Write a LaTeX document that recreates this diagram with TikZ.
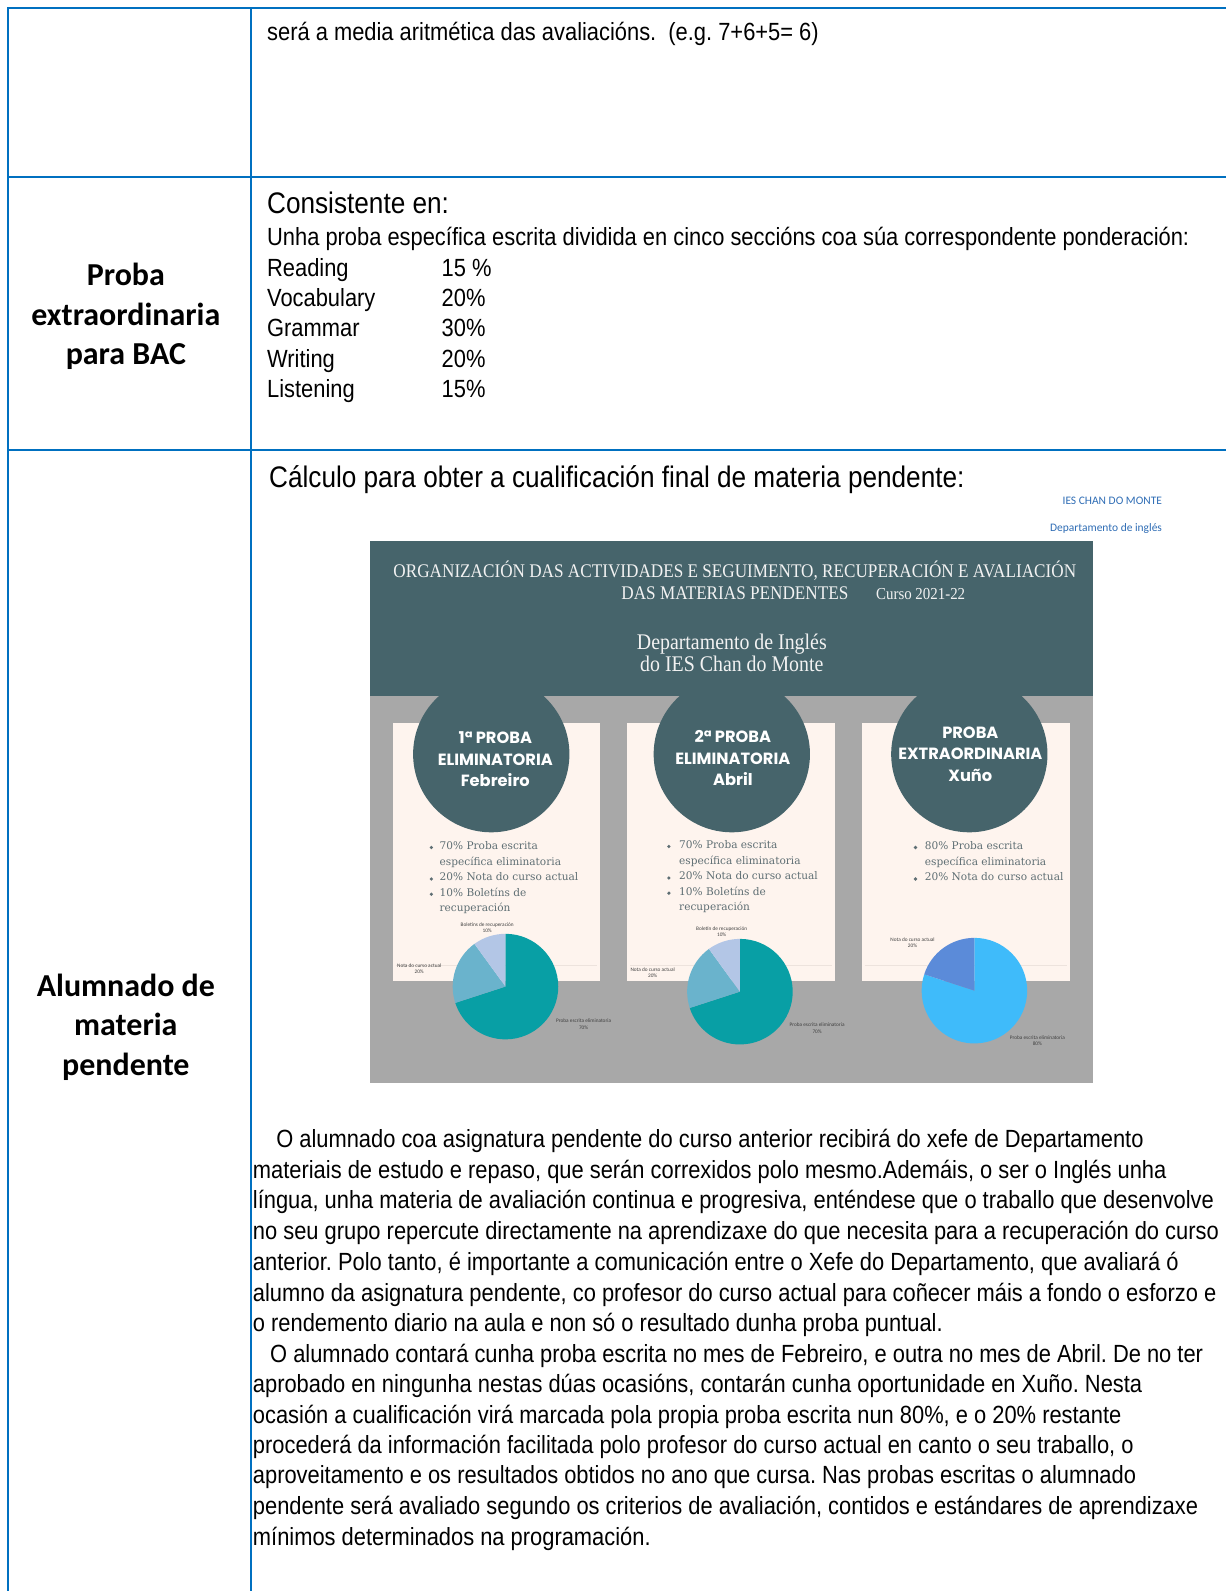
\documentclass[tikz,border=0pt]{standalone}
\usepackage{fontspec}
\setmainfont{Liberation Sans}
\newfontfamily\nar[FakeStretch=0.88]{Liberation Sans}
\newfontfamily\carl{Carlito}
\newfontfamily\tser[FakeStretch=0.89]{Liberation Serif}
\newfontfamily\popf{Poppins}
\newfontfamily\bser{DejaVu Serif}
\frenchspacing
\definecolor{tblue}{HTML}{0070C0}
\definecolor{slate}{HTML}{46646B}
\definecolor{greyb}{HTML}{A8A8A8}
\definecolor{cream}{HTML}{FEF4EE}
\definecolor{creamline}{HTML}{EDE3DD}
\definecolor{pteal}{HTML}{089FA5}
\definecolor{plteal}{HTML}{6AB3CC}
\definecolor{plav}{HTML}{B3C6E6}
\definecolor{psky}{HTML}{3FBBFA}
\definecolor{pmid}{HTML}{5B8BD9}
\definecolor{bulc}{HTML}{5E6E73}
\definecolor{iesb}{HTML}{2F6DB5}
\definecolor{titw}{HTML}{F2F2F2}
\begin{document}
\begin{tikzpicture}[x=1pt,y=-1pt,
  tline/.style={draw=tblue, line width=2pt},
  body/.style={anchor=base west, inner sep=0pt, font=\nar\fontsize{24.5}{28}\selectfont\frenchspacing, text=black},
  headl/.style={anchor=base west, inner sep=0pt, font=\nar\fontsize{29.3}{32}\selectfont, text=black},
  lab/.style={align=center, inner sep=0pt, font=\carl\bfseries\fontsize{31.5}{39}\selectfont},
  ttl/.style={inner sep=0pt, anchor=base, font=\tser\fontsize{19}{20}\selectfont, text=titw},
  dept/.style={inner sep=0pt, align=center, font=\tser\fontsize{22}{22}\selectfont, text=titw},
  ctext/.style={inner sep=0pt, align=center, text=white, font=\popf\bfseries\fontsize{16}{21}\selectfont},
  btext/.style={inner sep=0pt, anchor=north west, align=left, text=bulc, font=\bser\fontsize{10.4}{15.3}\selectfont},
  plab/.style={inner sep=0pt, align=center, text=black!75, font=\carl\fontsize{5.2}{6}\selectfont},
  ies/.style={inner sep=0pt, anchor=east, text=iesb, font=\carl\fontsize{11.3}{13}\selectfont}]
\useasboundingbox (0,0) rectangle (1226,1591);
\fill[white] (0,0) rectangle (1226,1591);
\begin{scope}[scale=1.015, transform shape]
% table
\draw[tline] (1226,8) -- (8,8) -- (8,1591);
\draw[tline] (247,8) -- (247,1591);
\draw[tline] (8,174) -- (1226,174);
\draw[tline] (8,443) -- (1226,443);

% row 1
\node[body] (r1) at (263,40) {será a media aritmética das avaliacións.\ \ (e.g. 7+6+5= 6)};

% row 2
\node[lab] (l2) at (124,312) {Proba\\extraordinaria\\para BAC};
\node[headl] (h2) at (263,210) {Consistente en:};
\node[body] (u2) at (263,242) {Unha proba específica escrita dividida en cinco seccións coa súa correspondente ponderación:};
\node[body] (s1) at (263,272) {Reading};
\node[body] (s2) at (263,302) {Vocabulary};
\node[body] (s3) at (263,332) {Grammar};
\node[body] (s4) at (263,362) {Writing};
\node[body] (s5) at (263,392) {Listening};
\node[body] (p1) at (435,272) {15 \%};
\node[body] (p2) at (435,302) {20\%};
\node[body] (p3) at (435,332) {30\%};
\node[body] (p4) at (435,362) {20\%};
\node[body] (p5) at (435,392) {15\%};

% row 3
\node[lab] (l3) at (124,1012) {Alumnado de\\materia\\pendente};
\node[headl] (h3) at (265,480) {Cálculo para obter a cualificación final de materia pendente:};
\node[ies] (ies1) at (1145,493) {IES CHAN DO MONTE};
\node[ies] (ies2) at (1145,521) {Departamento de inglés};

% infographic
\fill[greyb] (365,533) rectangle (1077,1067);
\fill[slate] (365,533) rectangle (1077,686);
\fill[cream] (387,712) rectangle (591,966);
\fill[cream] (618,712) rectangle (823,966);
\fill[cream] (849,712) rectangle (1054,966);
\draw[creamline, line width=0.8pt] (390,951) -- (588,951);
\draw[creamline, line width=0.8pt] (621,951) -- (820,951);
\draw[creamline, line width=0.8pt] (852,951) -- (1051,951);
\fill[slate] (484,743) circle[radius=77pt];
\fill[slate] (721,743) circle[radius=77pt];
\fill[slate] (955,743) circle[radius=77pt];

\node[ttl] (t1) at (724,569) {ORGANIZACIÓN DAS ACTIVIDADES E SEGUIMENTO, RECUPERACIÓN E AVALIACIÓN};
\node[ttl, anchor=base west] (t2) at (612,591) {DAS MATERIAS PENDENTES};
\node[ttl, anchor=base west, font=\tser\fontsize{16.5}{18}\selectfont] (t3) at (863,591) {Curso 2021-22};
\node[dept] (dp) at (721,643) {Departamento de Inglés\\do IES Chan do Monte};

\node[ctext] (c1) at (488,748) {1ª PROBA\\ELIMINATORIA\\Febreiro};
\node[ctext] (c2) at (722,747) {2ª PROBA\\ELIMINATORIA\\Abril};
\node[ctext] (c3) at (956,743) {PROBA\\EXTRAORDINARIA\\Xuño};

% bullets
\node[btext] (b1) at (433,829) {70\% Proba escrita\\específica eliminatoria\\20\% Nota do curso actual\\10\% Boletíns de\\recuperación};
\node[btext] (b2) at (669,828) {70\% Proba escrita\\específica eliminatoria\\20\% Nota do curso actual\\10\% Boletíns de\\recuperación};
\node[btext] (b3) at (911,829) {80\% Proba escrita\\específica eliminatoria\\20\% Nota do curso actual};
\foreach \yy in {835,866,881} \fill[bulc] (425,\yy) circle[radius=1.8pt];
\foreach \yy in {834,865,880} \fill[bulc] (659,\yy) circle[radius=1.8pt];
\foreach \yy in {835,866} \fill[bulc] (902,\yy) circle[radius=1.8pt];

% pies
\begin{scope}[shift={(498,972)}]
  \fill[pteal] (0,0) -- (90:52pt) arc[start angle=90, end angle=-162, radius=52pt] -- cycle;
  \fill[plteal] (0,0) -- (198:52pt) arc[start angle=198, end angle=126, radius=52pt] -- cycle;
  \fill[plav] (0,0) -- (126:52pt) arc[start angle=126, end angle=90, radius=52pt] -- cycle;
\end{scope}
\begin{scope}[shift={(729,977)}]
  \fill[pteal] (0,0) -- (90:52pt) arc[start angle=90, end angle=-162, radius=52pt] -- cycle;
  \fill[plteal] (0,0) -- (198:52pt) arc[start angle=198, end angle=126, radius=52pt] -- cycle;
  \fill[plav] (0,0) -- (126:52pt) arc[start angle=126, end angle=90, radius=52pt] -- cycle;
\end{scope}
\begin{scope}[shift={(960,976)}]
  \fill[psky] (0,0) -- (90:52pt) arc[start angle=90, end angle=-198, radius=52pt] -- cycle;
  \fill[pmid] (0,0) -- (162:52pt) arc[start angle=162, end angle=90, radius=52pt] -- cycle;
\end{scope}
\node[plab] (pl1) at (480,914) {Boletíns de recuperación\\10\%};
\node[plab] (pl2) at (413,954) {Nota do curso actual\\20\%};
\node[plab] (pl3) at (575,1009) {Proba escrita eliminatoria\\70\%};
\node[plab] (pl4) at (711,918) {Boletín de recuperación\\10\%};
\node[plab] (pl5) at (643,958) {Nota do curso actual\\20\%};
\node[plab] (pl6) at (805,1013) {Proba escrita eliminatoria\\70\%};
\node[plab] (pl7) at (899,929) {Nota do curso actual\\20\%};
\node[plab] (pl8) at (1022,1025) {Proba escrita eliminatoria\\80\%};

% body paragraph
\node[body] (q1) at (272,1131) {O alumnado coa asignatura pendente do curso anterior recibirá do xefe de Departamento};
\node[body] (q2) at (249,1161) {materiais de estudo e repaso, que serán correxidos polo mesmo.Ademáis, o ser o Inglés unha};
\node[body] (q3) at (249,1191) {língua, unha materia de avaliación continua e progresiva, enténdese que o traballo que desenvolve};
\node[body] (q4) at (249,1221) {no seu grupo repercute directamente na aprendizaxe do que necesita para a recuperación do curso};
\node[body] (q5) at (249,1252) {anterior. Polo tanto, é importante a comunicación entre o Xefe do Departamento, que avaliará ó};
\node[body] (q6) at (249,1282) {alumno da asignatura pendente, co profesor do curso actual para coñecer máis a fondo o esforzo e};
\node[body] (q7) at (249,1312) {o rendemento diario na aula e non só o resultado dunha proba puntual.};
\node[body] (q8) at (266,1342) {O alumnado contará cunha proba escrita no mes de Febreiro, e outra no mes de Abril. De no ter};
\node[body] (q9) at (249,1372) {aprobado en ningunha nestas dúas ocasións, contarán cunha oportunidade en Xuño. Nesta};
\node[body] (q10) at (249,1402) {ocasión a cualificación virá marcada pola propia proba escrita nun 80\%, e o 20\% restante};
\node[body] (q11) at (249,1432) {procederá da información facilitada polo profesor do curso actual en canto o seu traballo, o};
\node[body] (q12) at (249,1462) {aproveitamento e os resultados obtidos no ano que cursa. Nas probas escritas o alumnado};
\node[body] (q13) at (249,1492) {pendente será avaliado segundo os criterios de avaliación, contidos e estándares de aprendizaxe};
\node[body] (q14) at (249,1523) {mínimos determinados na programación.};
\end{scope}
\end{tikzpicture}
\end{document}
